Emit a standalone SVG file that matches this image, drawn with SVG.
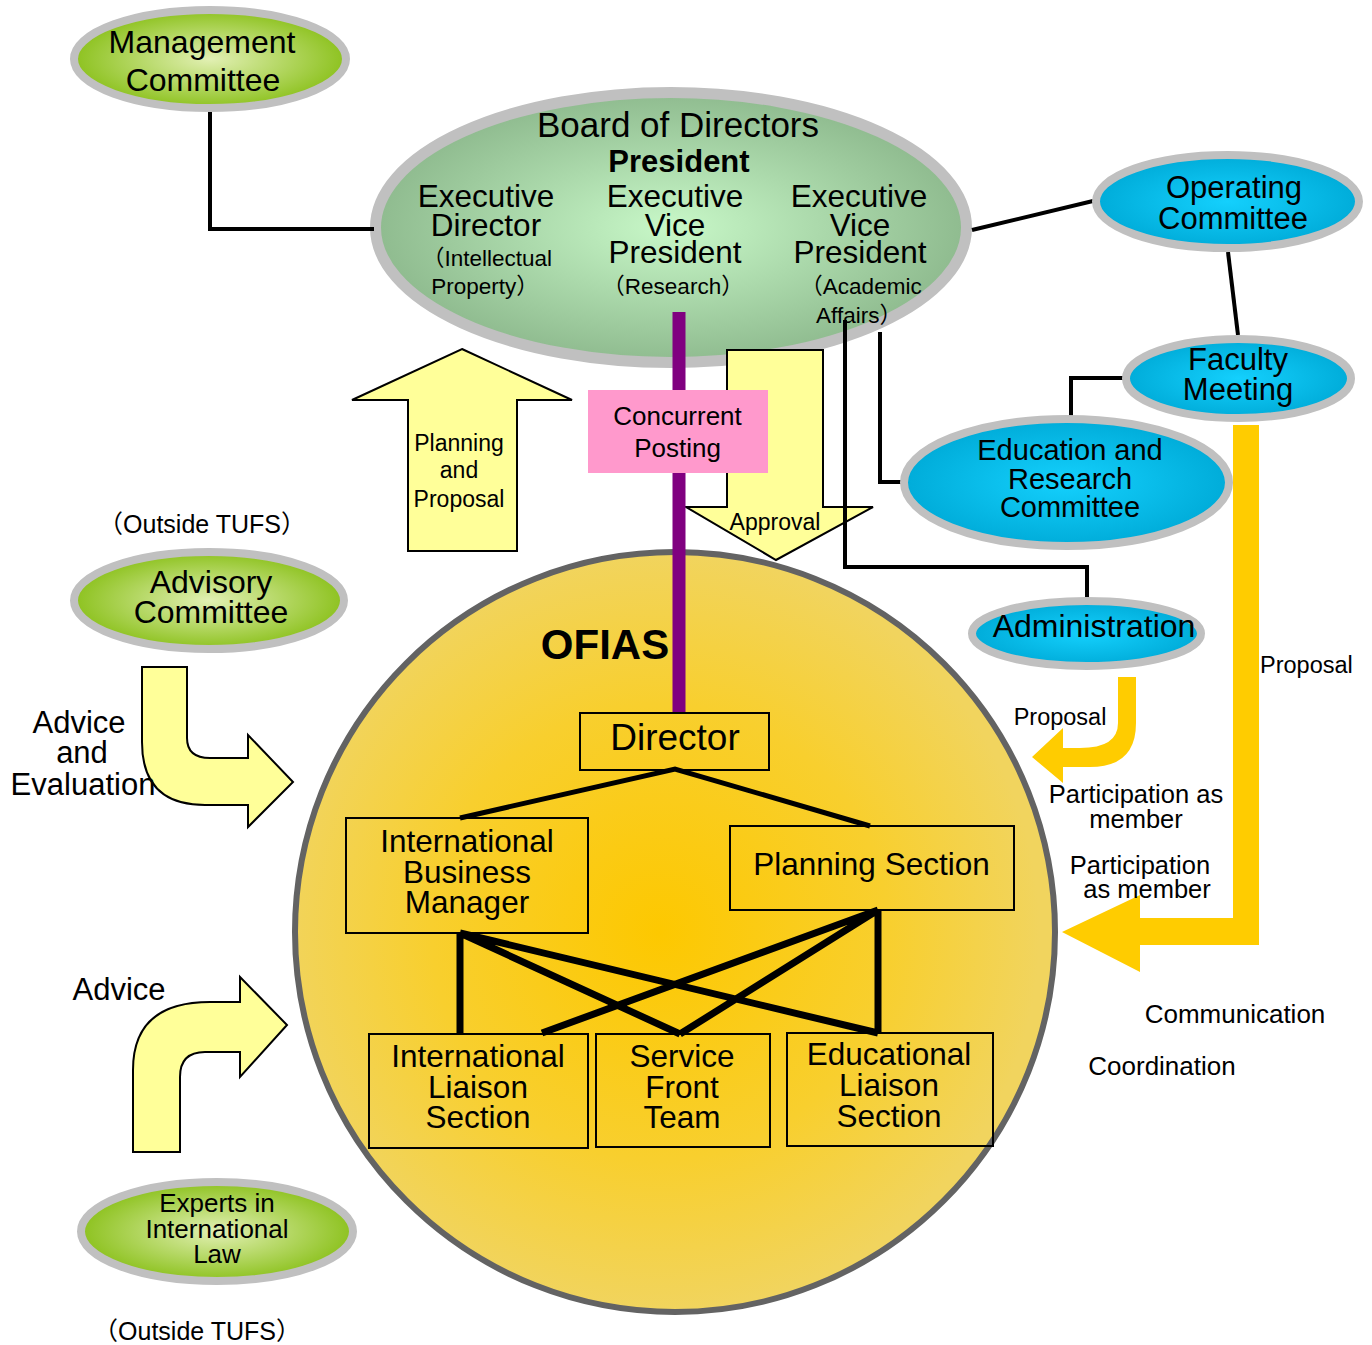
<svg xmlns="http://www.w3.org/2000/svg" width="1372" height="1345" viewBox="0 0 1372 1345">
<defs>
<radialGradient id="gGreen" cx="50%" cy="50%" r="50%"><stop offset="0" stop-color="#e2f0b4"/><stop offset="1" stop-color="#8dc21f"/></radialGradient>
<radialGradient id="gBlue" cx="50%" cy="50%" r="50%"><stop offset="0" stop-color="#14d0fd"/><stop offset="1" stop-color="#00acd9"/></radialGradient>
<radialGradient id="gBoard" cx="50%" cy="50%" r="50%"><stop offset="0" stop-color="#c8f8c8"/><stop offset="1" stop-color="#8fbb8f"/></radialGradient>
<radialGradient id="gOfias" cx="48%" cy="50%" r="50%"><stop offset="0" stop-color="#fdc800"/><stop offset="0.6" stop-color="#f8cf2e"/><stop offset="1" stop-color="#f1d45e"/></radialGradient>
<style>
text{font-family:"Liberation Sans","Noto Sans CJK JP",sans-serif;fill:#000;text-anchor:middle}
.ring{stroke:#c0c0c0;stroke-width:8}
.green{fill:url(#gGreen)}
.blue{fill:url(#gBlue)}
.line{fill:none;stroke:#000;stroke-width:4}
.thick{fill:none;stroke:#000;stroke-width:7}
.mid{fill:none;stroke:#000;stroke-width:5}
.box{fill:none;stroke:#000;stroke-width:2}
.yarrow{fill:#ffff99;stroke:#000;stroke-width:2;stroke-linejoin:miter}
.gold{fill:#ffcc00}
.s32{font-size:31.5px}
.s31{font-size:31.5px}
.p{font-size:22.5px}
</style>
</defs>
<rect width="1372" height="1345" fill="#fff"/>

<g id="ofias">
<circle cx="675" cy="932" r="380" fill="url(#gOfias)" stroke="#636363" stroke-width="6"/>
<text x="605" y="659" font-size="42" font-weight="bold">OFIAS</text>
</g>

<g id="board">
<ellipse cx="671" cy="227.5" rx="295.5" ry="135" fill="url(#gBoard)" stroke="#c0c0c0" stroke-width="11"/>
<text x="678" y="137" font-size="35">Board of Directors</text>
<text x="679" y="172" font-size="31" font-weight="bold">President</text>
<text x="486" y="207" class="s32">Executive</text>
<text x="486" y="236" class="s32">Director</text>
<text x="487" y="266" class="p">（Intellectual</text>
<text x="485" y="294" class="p">Property）</text>
<text x="675" y="207" class="s32">Executive</text>
<text x="675" y="236" class="s32">Vice</text>
<text x="675" y="263" class="s32">President</text>
<text x="673" y="294" class="p">（Research）</text>
<text x="859" y="207" class="s32">Executive</text>
<text x="860" y="236" class="s32">Vice</text>
<text x="860" y="263" class="s32">President</text>
<text x="861" y="294" class="p">（Academic</text>
<text x="859" y="323" class="p">Affairs）</text>
</g>

<g id="flow-planning">
<path class="yarrow" d="M462,349 L572,400 L517,400 L517,551 L408,551 L408,400 L352,400 Z"/>
<text x="459" y="451" font-size="23">Planning</text>
<text x="459" y="478" font-size="23">and</text>
<text x="459" y="507" font-size="23">Proposal</text>
</g>

<g id="flow-approval">
<path class="yarrow" d="M727,350 H823 V507 H873 L776,560 L686,507 H727 Z"/>
<text x="775" y="530" font-size="23">Approval</text>
</g>

<g id="connectors">
<polyline class="line" points="210,112 210,229 374,229"/>
<line class="line" x1="972" y1="230" x2="1093" y2="201"/>
<line class="line" x1="1228" y1="252" x2="1238" y2="335"/>
<polyline class="line" points="1123,378 1071,378 1071,416"/>
<polyline class="line" points="880,332 880,482 901,482"/>
<polyline class="line" points="845,320 845,567 1087,567 1087,598"/>
<line x1="679" y1="312" x2="679" y2="713" stroke="#800080" stroke-width="13"/>
<path class="mid" d="M460,818 L675,769 L870,826"/>
<path class="thick" d="M460,933 V1034 M460,933 L680,1034 M460,933 L878,1033 M878,910 L542,1033 M878,910 L680,1034 M878,910 V1033"/>
</g>

<g id="concurrent-posting">
<rect x="588" y="390" width="180" height="83" fill="#ff99cc"/>
<text x="677.5" y="425" font-size="26">Concurrent</text>
<text x="677.5" y="457" font-size="26">Posting</text>
</g>

<g id="management-committee">
<ellipse class="green ring" cx="210" cy="59" rx="136" ry="49"/>
<text x="202" y="53" font-size="32">Management</text>
<text x="203" y="91" font-size="32">Committee</text>
</g>

<g id="advisory-committee">
<ellipse class="green ring" cx="209" cy="600.5" rx="135" ry="48.5"/>
<text x="211" y="593" font-size="32">Advisory</text>
<text x="211" y="623" font-size="32">Committee</text>
</g>

<g id="experts">
<ellipse class="green ring" cx="217" cy="1231.5" rx="136" ry="49.5"/>
<text x="217" y="1212" font-size="26">Experts in</text>
<text x="217" y="1238" font-size="26">International</text>
<text x="217" y="1263" font-size="26">Law</text>
</g>

<g id="operating-committee">
<ellipse class="blue ring" cx="1227.5" cy="201.5" rx="131.5" ry="46.5"/>
<text x="1234" y="198" font-size="31">Operating</text>
<text x="1233" y="229" font-size="31">Committee</text>
</g>

<g id="faculty-meeting">
<ellipse class="blue ring" cx="1238.5" cy="378.5" rx="112.5" ry="39.5"/>
<text x="1238" y="370" font-size="31">Faculty</text>
<text x="1238" y="400" font-size="31">Meeting</text>
</g>

<g id="education-research-committee">
<ellipse class="blue ring" cx="1066.5" cy="482.5" rx="162.5" ry="63.5"/>
<text x="1070" y="460" font-size="29">Education and</text>
<text x="1070" y="489" font-size="29">Research</text>
<text x="1070" y="517" font-size="29">Committee</text>
</g>

<g id="administration">
<ellipse class="blue ring" cx="1086.5" cy="633.5" rx="114.5" ry="32.5"/>
<text x="1094" y="637" font-size="32">Administration</text>
</g>

<g id="director">
<rect class="box" x="580" y="713" width="189" height="57"/>
<text x="675" y="750" font-size="37">Director</text>
</g>

<g id="international-business-manager">
<rect class="box" x="346" y="818" width="242" height="115"/>
<text x="467" y="852" class="s31">International</text>
<text x="467" y="883" class="s31">Business</text>
<text x="467" y="913" class="s31">Manager</text>
</g>

<g id="planning-section">
<rect class="box" x="730" y="826" width="284" height="84"/>
<text x="871.5" y="875" class="s31">Planning Section</text>
</g>

<g id="international-liaison-section">
<rect class="box" x="369" y="1034" width="219" height="114"/>
<text x="478" y="1067" class="s31">International</text>
<text x="478" y="1098" class="s31">Liaison</text>
<text x="478" y="1128" class="s31">Section</text>
</g>

<g id="service-front-team">
<rect class="box" x="596" y="1034" width="174" height="113"/>
<text x="682" y="1067" class="s31">Service</text>
<text x="682" y="1098" class="s31">Front</text>
<text x="682" y="1128" class="s31">Team</text>
</g>

<g id="educational-liaison-section">
<rect class="box" x="787" y="1033" width="206" height="113"/>
<text x="889" y="1065" class="s31">Educational</text>
<text x="889" y="1096" class="s31">Liaison</text>
<text x="889" y="1127" class="s31">Section</text>
</g>

<g id="flow-advisory">
<path class="yarrow" d="M142,667 H187 V738 Q187,758 210,758 H248 V735 L293,782 L248,827 V805 H205 Q142,805 142,742 Z"/>
<text x="79" y="733" font-size="31">Advice</text>
<text x="82" y="763" font-size="31">and</text>
<text x="83" y="795" font-size="31">Evaluation</text>
</g>

<g id="flow-experts">
<path class="yarrow" d="M133,1152 V1070 Q133,1002 210,1002 H240 V977 L287,1025 L240,1077 V1052 H205 Q180,1052 180,1077 V1152 Z"/>
<text x="119" y="1000" font-size="31">Advice</text>
</g>

<g id="flow-faculty">
<path class="gold" d="M1233,425 H1259 V945 H1140 V972 L1062,932 L1140,895 V918 H1233 Z"/>
<text x="1260" y="673" font-size="23.5" style="text-anchor:start">Proposal</text>
</g>

<g id="flow-administration">
<path class="gold" d="M1118,677 H1136 V723 Q1136,767 1090,767 H1063 V783 L1032,757 L1063,728 V748 H1080 Q1118,748 1118,723 Z"/>
<text x="1060" y="725" font-size="23.5">Proposal</text>
</g>

<g id="labels">
<text x="202" y="533" font-size="25">（Outside TUFS）</text>
<text x="197" y="1340" font-size="25">（Outside TUFS）</text>
<text x="1136" y="803" font-size="25.5">Participation as</text>
<text x="1136" y="828" font-size="25.5">member</text>
<text x="1140" y="874" font-size="25.5">Participation</text>
<text x="1147" y="898" font-size="25.5">as member</text>
<text x="1235" y="1023" font-size="26">Communication</text>
<text x="1162" y="1075" font-size="26">Coordination</text>
</g>
</svg>
